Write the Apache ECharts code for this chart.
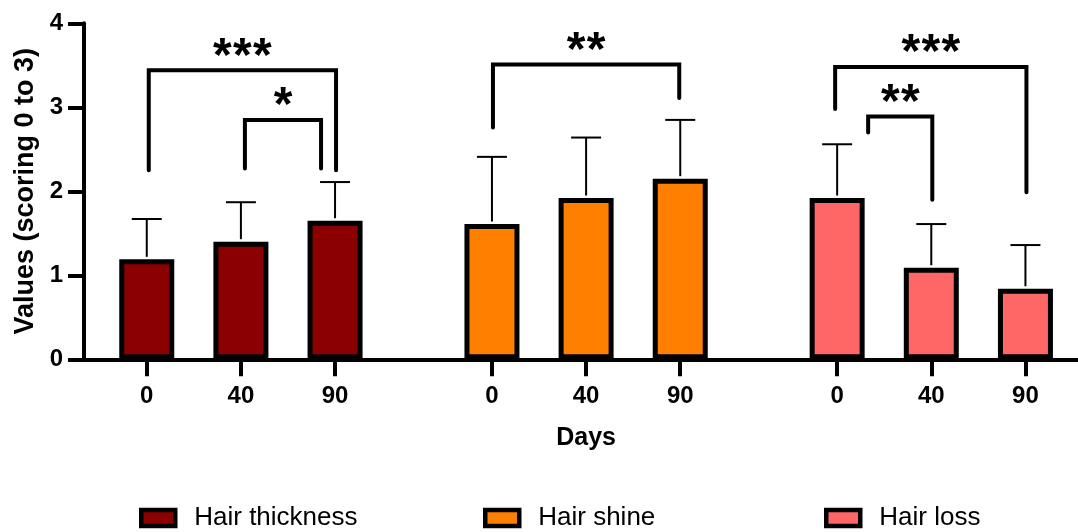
<!DOCTYPE html>
<html><head><meta charset="utf-8">
<script src="https://cdn.jsdelivr.net/npm/echarts@6/dist/echarts.min.js"></script>
<style>html,body{margin:0;padding:0;background:#fff}#c{width:1078px;height:532px}</style>
</head><body><div id="c"></div>
<script>
// ---- data ----
const days = ['0', '40', '90'];
const groupNames = ['Hair thickness', 'Hair shine', 'Hair loss'];
const thicknessMean = [1.19, 1.40, 1.65];
const thicknessSD = [0.48, 0.47, 0.46];
const shineMean = [1.61, 1.92, 2.15];
const shineSD = [0.80, 0.72, 0.70];
const lossMean = [1.92, 1.09, 0.84];
const lossSD = [0.64, 0.52, 0.52];
const yMin = 0, yMax = 4, yInterval = 1;
const xTitle = 'Days';
const yTitle = 'Values (scoring 0 to 3)';
// significance brackets (group, bar from, bar to, bracket level, leg ends, label)
const bracketGroup = [0, 0, 1, 2, 2];
const bracketFrom = [0, 1, 0, 0, 0];
const bracketTo = [2, 2, 2, 2, 1];
const bracketLevel = [3.44, 2.85, 3.51, 3.48, 2.89];
const bracketFromEnd = [2.25, 2.27, 2.76, 2.98, 2.70];
const bracketToEnd = [2.25, 2.27, 3.11, 1.99, 1.90];
const bracketLabel = ['***', '*', '**', '***', '**'];

// ---- layout / style ----
const FONT = '"Liberation Sans", Arial, Helvetica, sans-serif';
const colors = ['#8B0000', '#FF8000', '#FF6666'];
const LEAD = 2, GROUP_SLOTS = 11, BAR_SLOTS = 3, TOTAL = 33;
const bracketNudge = [[2, 1], [4, -14], [1, -1], [-2, 1], [31, 1]];
const legendLeft = [139, 483, 824];

const means = [thicknessMean, shineMean, lossMean];
const sds = [thicknessSD, shineSD, lossSD];
const slotOf = (g, k) => LEAD + g * GROUP_SLOTS + k * BAR_SLOTS;

const categories = [];
const isBarSlot = [];
for (let s = 0; s < TOTAL; s++) { categories.push(''); isBarSlot.push(false); }
for (let g = 0; g < 3; g++) for (let k = 0; k < days.length; k++) {
  categories[slotOf(g, k)] = days[k];
  isBarSlot[slotOf(g, k)] = true;
}

const barSeries = groupNames.map((name, g) => {
  const d = new Array(TOTAL).fill(null);
  means[g].forEach((v, k) => { d[slotOf(g, k)] = v; });
  return {
    name, type: 'bar', data: d, barWidth: 55, barGap: '-100%',
    itemStyle: { color: colors[g], borderColor: '#000', borderWidth: 5 },
    z: 2
  };
});

const errData = [];
for (let g = 0; g < 3; g++) for (let k = 0; k < days.length; k++)
  errData.push([slotOf(g, k), means[g][k], sds[g][k]]);

const bracketData = bracketLabel.map((l, i) => [
  slotOf(bracketGroup[i], bracketFrom[i]), slotOf(bracketGroup[i], bracketTo[i]),
  bracketLevel[i], bracketFromEnd[i], bracketToEnd[i]
]);

const chart = echarts.init(document.getElementById('c'));
chart.setOption({
  animation: false,
  backgroundColor: '#fff',
  textStyle: { fontFamily: FONT },
  grid: { left: 84, top: 23.3, height: 336, width: 1004.2, outerBoundsMode: 'none', containLabel: false },
  legend: groupNames.map((n, g) => ({
    data: [n], left: legendLeft[g], top: 505, padding: 0,
    icon: 'rect', itemWidth: 34, itemHeight: 16,
    itemStyle: { borderColor: '#000', borderWidth: 4.5 },
    textStyle: { fontFamily: FONT, fontSize: 26, color: '#000', padding: [0, 0, 0, 14] },
    selectedMode: false
  })),
  xAxis: {
    type: 'category', data: categories, boundaryGap: false,
    name: xTitle, nameLocation: 'middle', nameGap: 66,
    nameTextStyle: { fontFamily: FONT, fontSize: 25, fontWeight: 'bold', color: '#000' },
    axisLine: { lineStyle: { color: '#000', width: 4 } },
    axisTick: { length: 17, lineStyle: { color: '#000', width: 4 }, interval: (i) => isBarSlot[i] },
    axisLabel: { interval: 0, margin: 25, fontFamily: FONT, fontSize: 24, fontWeight: 'bold', color: '#000' },
    splitLine: { show: false }
  },
  yAxis: {
    type: 'value', min: yMin, max: yMax, interval: yInterval,
    name: yTitle, nameLocation: 'middle', nameGap: 33,
    nameTextStyle: { fontFamily: FONT, fontSize: 27, fontWeight: 'bold', color: '#000' },
    axisLine: { show: true, lineStyle: { color: '#000', width: 4 } },
    axisTick: { show: true, length: 16, lineStyle: { color: '#000', width: 4 } },
    axisLabel: { margin: 21, fontFamily: FONT, fontSize: 24, fontWeight: 'bold', color: '#000' },
    splitLine: { show: false }
  },
  series: [
    ...barSeries,
    {
      type: 'custom', name: 'err', data: errData, z: 3,
      encode: { x: 0, y: [1, 2] },
      renderItem(params, api) {
        const x = api.value(0), m = api.value(1), s = api.value(2);
        const p = api.coord([x, m]);
        const q = api.coord([x, m + s]);
        return {
          type: 'group', children: [
            { type: 'line', shape: { x1: p[0], y1: p[1] - 2.5, x2: q[0], y2: q[1] }, style: { stroke: '#000', lineWidth: 2 } },
            { type: 'line', shape: { x1: q[0] - 15, y1: q[1], x2: q[0] + 15, y2: q[1] }, style: { stroke: '#000', lineWidth: 2 } }
          ]
        };
      }
    },
    {
      type: 'custom', name: 'brackets', data: bracketData, z: 4,
      encode: { x: [0, 1], y: [2, 3, 4] },
      renderItem(params, api) {
        const i = params.dataIndex;
        const p0 = api.coord([0, 0]), p1 = api.coord([1, 0]);
        const u = p1[0] - p0[0];
        const xa = p0[0] + api.value(0) * u + bracketNudge[i][0];
        const xb = p0[0] + api.value(1) * u + bracketNudge[i][1];
        const yl = api.coord([0, api.value(2)])[1];
        const ya = api.coord([0, api.value(3)])[1];
        const yb = api.coord([0, api.value(4)])[1];
        const children = [{
          type: 'polyline',
          shape: { points: [[xa, ya], [xa, yl], [xb, yl], [xb, yb]] },
          style: { stroke: '#000', lineWidth: 4, fill: null, lineCap: 'round', lineJoin: 'miter' }
        }];
        const n = bracketLabel[i].length;
        const cx = (xa + xb) / 2;
        for (let k = 0; k < n; k++) {
          children.push({
            type: 'text',
            style: {
              text: '*', x: cx + (k - (n - 1) / 2) * 20, y: yl - 13,
              font: 'bold 48px ' + FONT, fill: '#000', align: 'center', verticalAlign: 'middle'
            }
          });
        }
        return { type: 'group', children };
      }
    }
  ]
});
</script></body></html>
